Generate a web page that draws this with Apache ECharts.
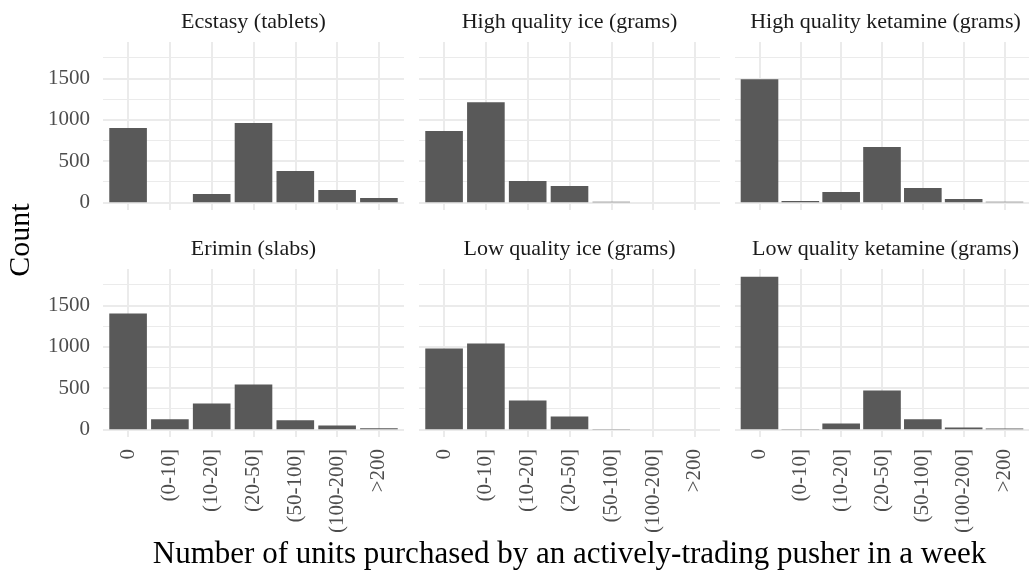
<!DOCTYPE html>
<html><head><meta charset="utf-8">
<script src="https://cdn.jsdelivr.net/npm/echarts@6/dist/echarts.min.js"></script>
<style>html,body{margin:0;padding:0;background:#fff}#c{width:1029px;height:573px}</style>
</head><body><div id="c"></div>
<script>
// ---- data ----
const categories = ['0', '(0-10]', '(10-20]', '(20-50]', '(50-100]', '(100-200]', '>200'];
const panelTitles = ['Ecstasy (tablets)', 'High quality ice (grams)', 'High quality ketamine (grams)',
                     'Erimin (slabs)', 'Low quality ice (grams)', 'Low quality ketamine (grams)'];
const ecstasy = [900, 0, 100, 960, 380, 150, 52];
const highQualityIce = [862, 1212, 258, 197, 8, 0, 0];
const highQualityKetamine = [1491, 16, 125, 669, 173, 40, 7];
const erimin = [1401, 121, 314, 543, 109, 48, 12];
const lowQualityIce = [978, 1039, 350, 157, 4, 0, 0];
const lowQualityKetamine = [1848, 4, 72, 471, 121, 24, 10];
const yMajorTicks = [0, 500, 1000, 1500];
const yMinorTicks = [250, 750, 1250, 1750];
const xTitle = 'Number of units purchased by an actively-trading pusher in a week';
const yTitle = 'Count';

// ---- layout ----
const panels = [ecstasy, highQualityIce, highQualityKetamine, erimin, lowQualityIce, lowQualityKetamine];
const FONT = '"Liberation Serif","Times New Roman",serif';
const colLefts = [103, 419, 735], rowTops = [42, 269], panelW = 301, panelH = 168;
const GRID = '#EBEBEB';
const dataMax = Math.max(...panels.flat());
const yMin = -0.05 * dataMax, yMax = 1.05 * dataMax;
const xMin = -0.6, xMax = categories.length - 1 + 0.6;
const unitPx = panelW / (xMax - xMin);

const grids = [], xAxes = [], yAxes = [], series = [], titles = [];
panels.forEach((vals, i) => {
  const r = Math.floor(i / 3), c = i % 3;
  grids.push({ left: colLefts[c], top: rowTops[r], width: panelW, height: panelH });
  xAxes.push({
    gridIndex: i, type: 'value', min: xMin, max: xMax, minInterval: 1, maxInterval: 1,
    axisLine: { show: false }, axisTick: { show: false }, splitLine: { show: false },
    axisLabel: {
      show: r === 1, rotate: 90, margin: 12, color: '#4D4D4D', fontFamily: FONT, fontSize: 21,
      showMinLabel: true, showMaxLabel: true, hideOverlap: false,
      formatter: v => { const k = Math.round(v); return (Math.abs(v - k) < 1e-6 && k >= 0 && k < categories.length) ? categories[k] : ''; }
    }
  });
  yAxes.push({
    gridIndex: i, type: 'value', min: yMin, max: yMax, minInterval: 500, maxInterval: 500,
    axisLine: { show: false }, axisTick: { show: false }, splitLine: { show: false },
    axisLabel: {
      show: c === 0, margin: 13, color: '#4D4D4D', fontFamily: FONT, fontSize: 21,
      formatter: v => yMajorTicks.some(t => Math.abs(t - v) < 1e-6) ? String(Math.round(v)) : ''
    }
  });
  const gl = [];
  yMajorTicks.forEach(v => gl.push({ yAxis: v, lineStyle: { color: GRID, width: 2, type: 'solid' } }));
  yMinorTicks.forEach(v => gl.push({ yAxis: v, lineStyle: { color: GRID, width: 1, type: 'solid' } }));
  categories.forEach((_, k) => gl.push({ xAxis: k, lineStyle: { color: GRID, width: 2, type: 'solid' } }));
  series.push({
    type: 'line', xAxisIndex: i, yAxisIndex: i, data: [], z: 1, silent: true,
    markLine: { silent: true, z: 1, symbol: 'none', animation: false, label: { show: false },
      lineStyle: { color: GRID, type: 'solid' }, emphasis: { disabled: true }, data: gl }
  });
  series.push({
    type: 'bar', xAxisIndex: i, yAxisIndex: i, z: 10,
    barWidth: 0.9 * unitPx,
    itemStyle: { color: '#595959' },
    data: vals.map((v, k) => [k, v])
  });
  titles.push({
    text: panelTitles[i], left: colLefts[c] + panelW / 2, top: rowTops[r] - 31, textAlign: 'center', padding: 0,
    textStyle: { fontFamily: FONT, fontSize: 22, fontWeight: 'normal', color: '#1A1A1A' }
  });
});

const chart = echarts.init(document.getElementById('c'));
chart.setOption({
  animation: false,
  backgroundColor: '#fff',
  title: titles,
  grid: grids, xAxis: xAxes, yAxis: yAxes, series: series,
  graphic: [
    { type: 'text', x: (colLefts[0] + colLefts[2] + panelW) / 2, y: 555,
      style: { text: xTitle, fill: '#000', font: '31px ' + FONT, align: 'center', verticalAlign: 'middle', textAlign: 'center', textVerticalAlign: 'middle' } },
    { type: 'text', x: 21, y: 240, rotation: Math.PI / 2,
      style: { text: yTitle, fill: '#000', font: '30px ' + FONT, align: 'center', verticalAlign: 'middle', textAlign: 'center', textVerticalAlign: 'middle' } }
  ]
});
</script></body></html>
